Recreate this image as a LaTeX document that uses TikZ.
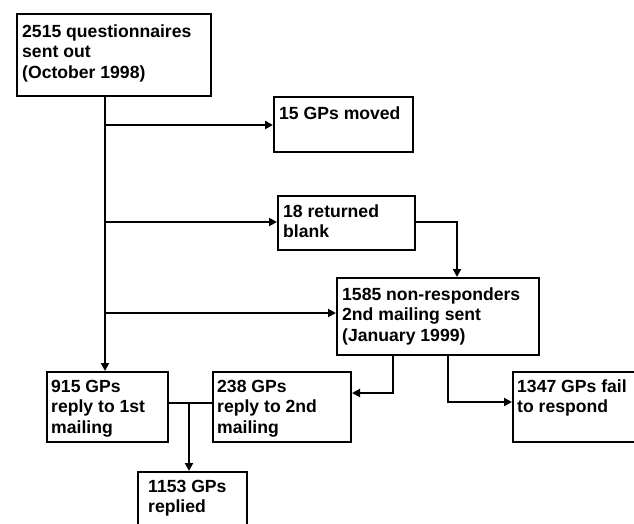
\documentclass[tikz,border=0pt]{standalone}
\usepackage{fontspec}
\setmainfont{Liberation Sans}
\usetikzlibrary{arrows.meta,calc}
\newcommand\firststrut{\rule{0pt}{16pt}}
\begin{document}
\begin{tikzpicture}[x=1pt,y=-1pt,
  gbox/.style={draw=black,line width=2pt,fill=white,inner sep=0pt,anchor=north west},
  gtxt/.style={anchor=north west,inner sep=0pt,align=left,font=\fontsize{17.6}{20.5}\selectfont\bfseries},
  link/.style={line width=2pt,draw=black},
  arr/.style={link,-{Triangle[length=8pt,width=8pt]}}]
\useasboundingbox (0,0) rectangle (634,523);
\clip (0,0) rectangle (634,523);
% boxes
\node[gbox,minimum width=194pt,minimum height=82pt] (A) at (16,13) {};
\node[gbox,minimum width=139pt,minimum height=55pt] (B) at (273,96) {};
\node[gbox,minimum width=137pt,minimum height=54pt] (C) at (277,195) {};
\node[gbox,minimum width=202pt,minimum height=77pt] (D) at (336,277) {};
\node[gbox,minimum width=121pt,minimum height=70pt] (E) at (46,371) {};
\node[gbox,minimum width=138pt,minimum height=70pt] (F) at (212,371) {};
\node[gbox,minimum width=140pt,minimum height=70pt] (G) at (512,371) {};
\node[gbox,minimum width=109pt,minimum height=70pt] (H) at (137,471) {};
% texts (first baseline 16pt below the node's top)
\node[gtxt] (tA) at ($(A.north west)+(6,8)$) {\firststrut 2515 questionnaires\\sent out\\(October 1998)};
\node[gtxt] (tB) at ($(B.north west)+(6,7)$) {\firststrut 15 GPs moved};
\node[gtxt] (tC) at ($(C.north west)+(6,6)$) {\firststrut 18 returned\\blank};
\node[gtxt] (tD) at ($(D.north west)+(6,7)$) {\firststrut 1585 non-responders\\2nd mailing sent\\(January 1999)};
\node[gtxt] (tE) at ($(E.north west)+(5,5)$) {\firststrut 915 GPs\\reply to 1st\\mailing};
\node[gtxt] (tF) at ($(F.north west)+(5,5)$) {\firststrut 238 GPs\\reply to 2nd\\mailing};
\node[gtxt] (tG) at ($(G.north west)+(5,5)$) {\firststrut 1347 GPs fail\\to respond};
\node[gtxt] (tH) at ($(H.north west)+(11,5)$) {\firststrut 1153 GPs\\replied};
% helper coordinates
\coordinate (tr) at (105,0);
\coordinate (yB) at (0,125);
\coordinate (yC) at (0,222);
\coordinate (yD) at (0,313);
\coordinate (xCD) at (457,0);
\coordinate (xDF) at (393,0);
\coordinate (yDF) at (0,393);
\coordinate (xDG) at (448,0);
\coordinate (yDG) at (0,402);
\coordinate (yEF) at (0,403);
\coordinate (xEH) at (189,0);
% connectors
\draw[arr] (A.south -| tr) -- (E.north -| tr);
\draw[arr] (tr |- yB) -- (B.west |- yB);
\draw[arr] (tr |- yC) -- (C.west |- yC);
\draw[arr] (tr |- yD) -- (D.west |- yD);
\draw[arr] (C.east |- yC) -| (D.north -| xCD);
\draw[arr] (D.south -| xDF) |- (F.east |- yDF);
\draw[arr] (D.south -| xDG) |- (G.west |- yDG);
\draw[link] (E.east |- yEF) -- (F.west |- yEF);
\draw[arr] (xEH |- yEF) -- (H.north -| xEH);
\end{tikzpicture}
\end{document}
